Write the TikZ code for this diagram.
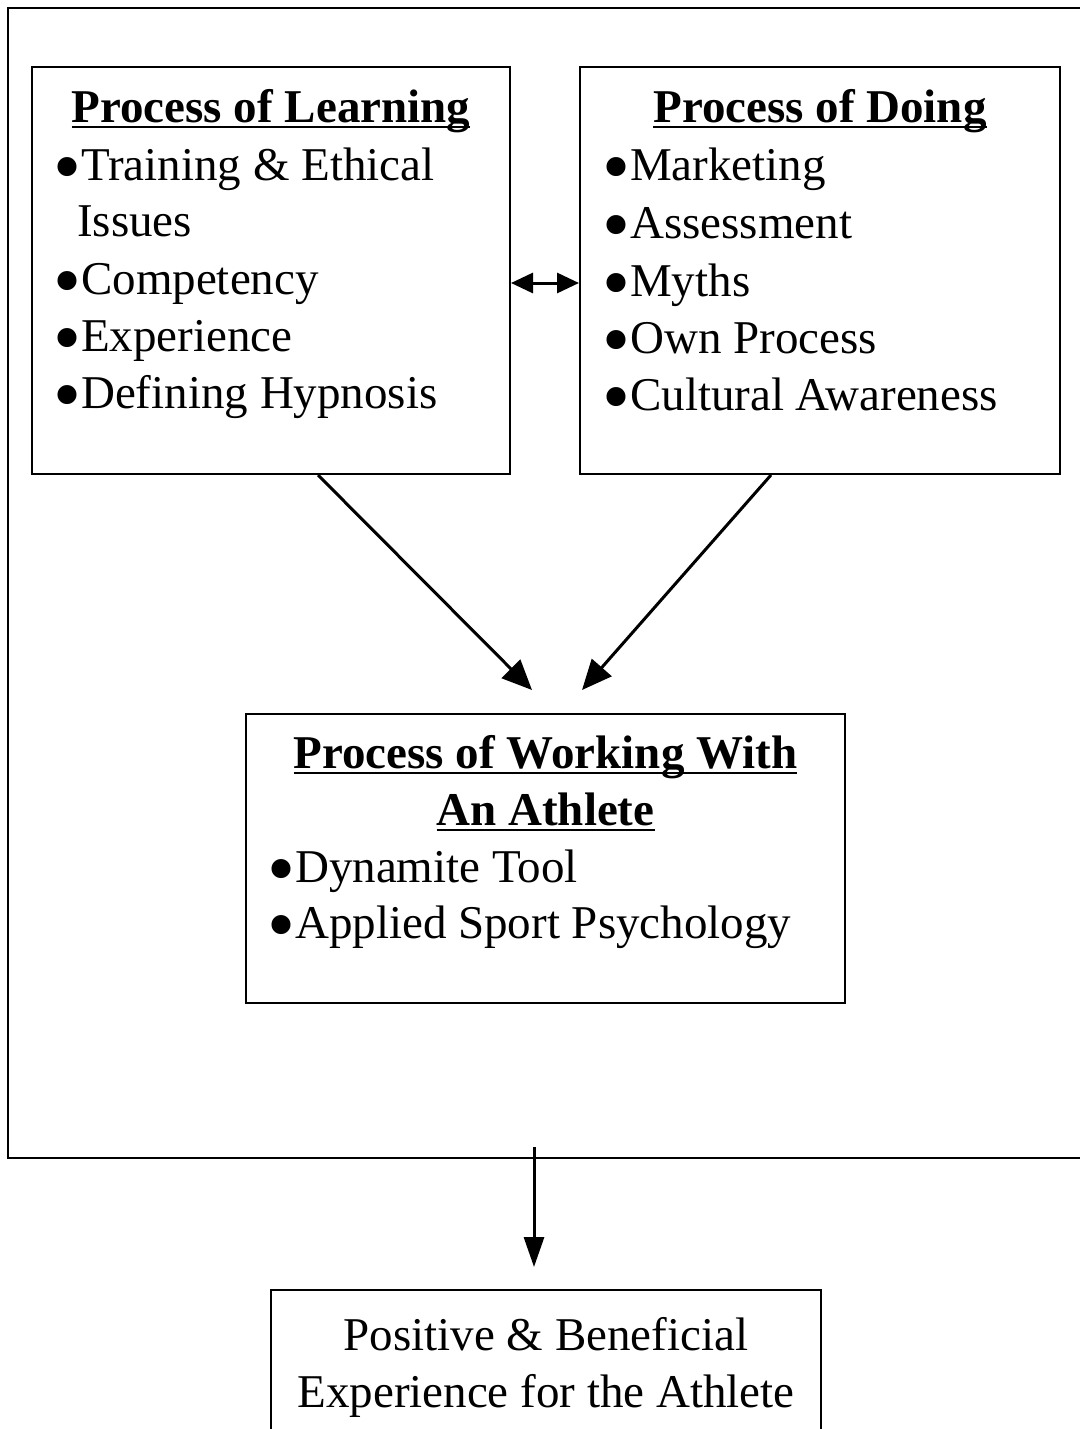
\documentclass[tikz,border=0pt]{standalone}
\usepackage{graphicx}
\usepackage{fontspec}
\setmainfont{Liberation Serif}
\usetikzlibrary{arrows.meta}

\newcommand{\ulhead}[1]{\setbox0=\hbox{#1}\rlap{\rule[-6pt]{\wd0}{2pt}}\box0}
\newcommand{\blt}{\raisebox{-13pt}[0pt][0pt]{\scalebox{1.7}{\textbullet}}}

\begin{document}
\begin{tikzpicture}[x=1pt, y=-1pt]
\useasboundingbox (0,0) rectangle (1079,1429);

\begin{scope}[every node/.style={inner sep=0pt, font=\fontsize{47}{57}\selectfont},
              box/.style={draw, line width=2pt},
              head/.style={anchor=base, font=\fontsize{47}{57}\selectfont\bfseries},
              item/.style={anchor=base west}]
    \node (outer) at (551.5,583) [box, minimum width=1087pt, minimum height=1150pt] {};

    \node (learning) at (271,270.5) [box, minimum width=478pt, minimum height=407pt] {};
    \node (learninghead) at (271,122) [head] {\ulhead{Process of Learning}};
    \node (training) at (53,180) [item] {\blt Training \& Ethical};
    \node (issues) at (77,236) [item] {Issues};
    \node (competency) at (53,294) [item] {\blt Competency};
    \node (experience) at (53,351) [item] {\blt Experience};
    \node (hypnosis) at (53,408) [item] {\blt Defining Hypnosis};

    \node (doing) at (820,270.5) [box, minimum width=480pt, minimum height=407pt] {};
    \node (doinghead) at (820,122) [head] {\ulhead{Process of Doing}};
    \node (marketing) at (602,180) [item] {\blt Marketing};
    \node (assessment) at (602,238) [item] {\blt Assessment};
    \node (myths) at (602,296) [item] {\blt Myths};
    \node (ownprocess) at (602,353) [item] {\blt Own Process};
    \node (cultural) at (602,410) [item] {\blt Cultural Awareness};

    \node (working) at (545.5,858.5) [box, minimum width=599pt, minimum height=289pt] {};
    \node (workinghead) at (545.5,768) [head] {\ulhead{Process of Working With}};
    \node (athletehead) at (545.5,825) [head] {\ulhead{An Athlete}};
    \node (dynamite) at (267,882) [item] {\blt Dynamite Tool};
    \node (applied) at (267,938) [item] {\blt Applied Sport Psychology};

    \node (outcome) at (546,1367) [box, minimum width=550pt, minimum height=154pt] {};
    \node (positive) at (546,1350) [anchor=base] {Positive \& Beneficial};
    \node (experience2) at (546,1407) [anchor=base] {Experience for the Athlete};
\end{scope}

\coordinate (learnend) at (532,690);
\coordinate (doend) at (582,690);
\coordinate (outstart) at (534,1147);
\coordinate (outend) at (534,1267);

\begin{scope}[line width=3pt]
    \draw [{Triangle[length=22pt,width=20pt]}-{Triangle[length=22pt,width=20pt]}]
        ([yshift=-12.5pt]learning.east) -- ([yshift=-12.5pt]doing.west);
    \draw [-{Triangle[length=30pt,width=26pt]}] ([xshift=47pt]learning.south) -- (learnend);
    \draw [-{Triangle[length=30pt,width=26pt]}] ([xshift=-49pt]doing.south) -- (doend);
    \draw [-{Triangle[length=30pt,width=20pt]}] (outstart) -- (outend);
\end{scope}
\end{tikzpicture}
\end{document}
